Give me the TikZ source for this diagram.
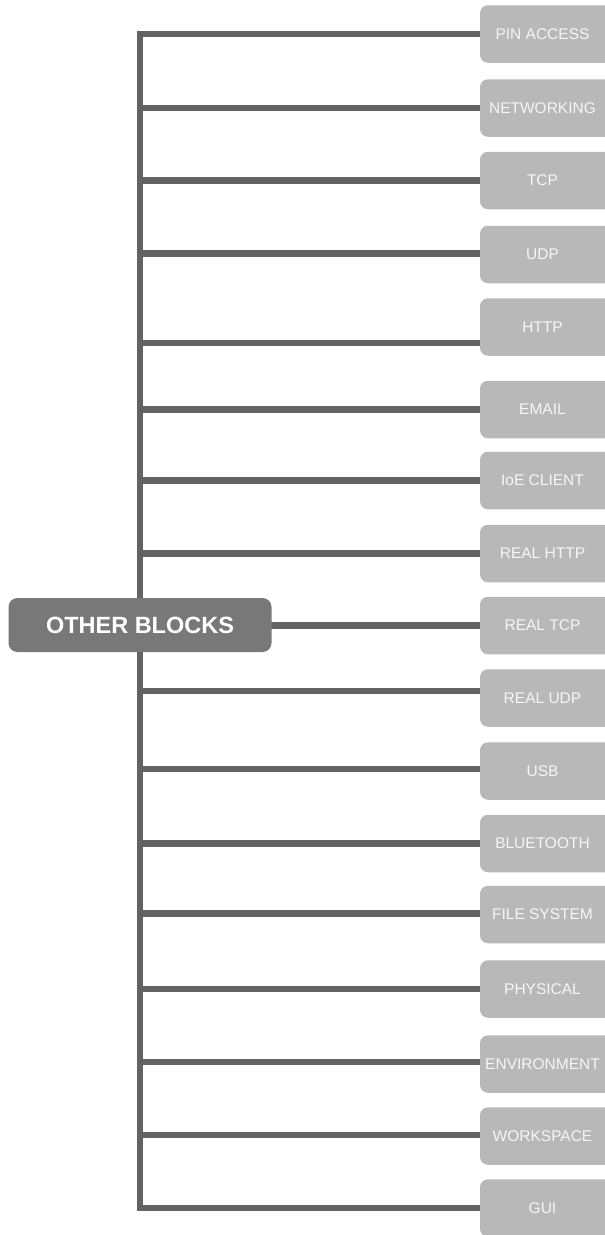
\documentclass[tikz,border=0pt]{standalone}
\usepackage{fontspec}
\setmainfont{Liberation Sans}
\usetikzlibrary{backgrounds}
\definecolor{linegray}{HTML}{636363}
\definecolor{maingray}{HTML}{787878}
\definecolor{boxgray}{HTML}{B8B8B8}
\definecolor{boxtext}{HTML}{F6F6F6}
\tikzset{
  conn/.style={draw=linegray, line width=6.5pt, line join=miter, line cap=butt},
  mainbox/.style={fill=maingray, rounded corners=9pt, minimum width=263pt, minimum height=54pt,
    inner sep=0pt, text=white, font=\fontsize{23.5}{25}\selectfont\bfseries},
  leafbox/.style={fill=boxgray, rounded corners=8pt, minimum width=140pt, minimum height=57.5pt,
    inner xsep=0pt, inner ysep=0pt, text=boxtext, font=\fontsize{15.5}{17}\selectfont}
}
\newcommand{\leaf}[1]{#1\hspace*{15pt}}
\begin{document}
\begin{tikzpicture}[x=1pt, y=-1pt]
\path[use as bounding box, clip] (0,0) rectangle (605,1235);
\node[mainbox] (main) at (140,625) {OTHER BLOCKS};
\node[leafbox] (b1)  at (550,34)     {\leaf{PIN ACCESS}};
\node[leafbox] (b2)  at (550,108)    {\leaf{NETWORKING}};
\node[leafbox] (b3)  at (550,180.5)  {\leaf{TCP}};
\node[leafbox] (b4)  at (550,254.5)  {\leaf{UDP}};
\node[leafbox] (b5)  at (550,327)    {\leaf{HTTP}};
\node[leafbox] (b6)  at (550,409.5)  {\leaf{EMAIL}};
\node[leafbox] (b7)  at (550,480.5)  {\leaf{IoE CLIENT}};
\node[leafbox] (b8)  at (550,553.5)  {\leaf{REAL HTTP}};
\node[leafbox] (b9)  at (550,625.5)  {\leaf{REAL TCP}};
\node[leafbox] (b10) at (550,698)    {\leaf{REAL UDP}};
\node[leafbox] (b11) at (550,771)    {\leaf{USB}};
\node[leafbox] (b12) at (550,843.5)  {\leaf{BLUETOOTH}};
\node[leafbox] (b13) at (550,914.5)  {\leaf{FILE SYSTEM}};
\node[leafbox] (b14) at (550,989)    {\leaf{PHYSICAL}};
\node[leafbox] (b15) at (550,1064)   {\leaf{ENVIRONMENT}};
\node[leafbox] (b16) at (550,1136)   {\leaf{WORKSPACE}};
\node[leafbox] (b17) at (550,1208)   {\leaf{GUI}};
\begin{scope}[on background layer]
\fill[white] (0,0) rectangle (605,1235);
\draw[conn] (main.center) |- (b1.west);
\draw[conn] (main.center) |- (b2.west);
\draw[conn] (main.center) |- (b3.west);
\draw[conn] (main.center) |- ([yshift=1pt]b4.west);
\draw[conn] (main.center) |- ([yshift=-16pt]b5.west);
\draw[conn] (main.center) |- (b6.west);
\draw[conn] (main.center) |- (b7.west);
\draw[conn] (main.center) |- (b8.west);
\draw[conn] (main.center) |- (b9.west);
\draw[conn] (main.center) |- ([yshift=7pt]b10.west);
\draw[conn] (main.center) |- ([yshift=2pt]b11.west);
\draw[conn] (main.center) |- (b12.west);
\draw[conn] (main.center) |- ([yshift=1pt]b13.west);
\draw[conn] (main.center) |- (b14.west);
\draw[conn] (main.center) |- ([yshift=2pt]b15.west);
\draw[conn] (main.center) |- ([yshift=1pt]b16.west);
\draw[conn] (main.center) |- (b17.west);
\end{scope}
\end{tikzpicture}
\end{document}
